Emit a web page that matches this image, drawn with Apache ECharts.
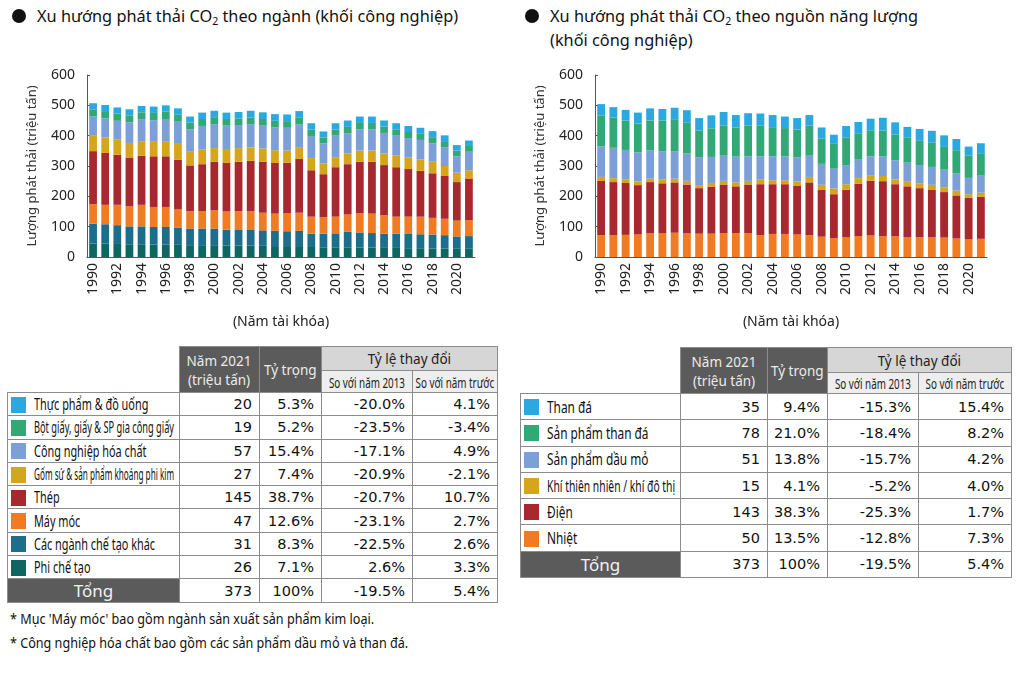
<!DOCTYPE html>
<html>
<head>
<meta charset="utf-8">
<script src="https://cdn.jsdelivr.net/npm/echarts/dist/echarts.min.js"></script>
<style>
  body { margin: 0; width: 1024px; height: 683px; background: #fff; position: relative; overflow: hidden;
         font-family: "Noto Sans", "Open Sans", sans-serif; color: #111; }
  .title { position: absolute; font-size: 17px; line-height: 24px; white-space: nowrap; }
  .title .in { display: inline-block; transform: scaleX(0.96); transform-origin: 0 50%; }
  .title .dot { position: absolute; left: -25px; top: 5px; width: 14px; height: 14px; border-radius: 50%; background: #111; }
  .title sub { font-size: 11px; vertical-align: -3px; line-height: 0; }
  .chart { position: absolute; top: 55px; width: 512px; height: 280px; }
  table { position: absolute; border-collapse: collapse; table-layout: fixed; }
  td, th { border: 1px solid #8c8c8c; padding: 0; font-weight: normal; overflow: hidden; }
  th { text-align: center; font-size: 15px; line-height: 19px; white-space: nowrap; }
  th .sq { display: inline-block; transform: scaleX(0.9); }
  th.dark { background: #5b5b5b; color: #ececec; }
  th.mid { background: #d6d6d6; color: #222; }
  th.sub { background: #eeeeee; color: #222; font-size: 14.5px; line-height: 16px; }
  th.sub .sq { transform: scaleX(0.68); margin: 0 -30px; }
  td.blank { border-top: none; border-left: none; background: transparent; }
  td.lab { position: relative; background: #fff; white-space: nowrap; }
  td.lab .sw { position: absolute; left: 3px; width: 15px; }
  td.lab .tx { position: absolute; left: 26px; display: inline-block; transform-origin: 0 50%; font-size: 16px; line-height: 21px; color: #111; }
  td.num { text-align: right; padding-right: 7px; font-family: "DejaVu Sans", sans-serif; font-size: 14.5px; color: #111; background: #fff; }
  td.tot { background: #5b5b5b; color: #f2f2f2; text-align: center; font-size: 17px; }
  .note { position: absolute; left: 10px; font-size: 14px; white-space: nowrap; transform-origin: 0 50%; transform: scaleX(0.9); }
</style>
</head>
<body>
<div class="title" style="left:37px;top:4px"><span class="dot"></span><span class="in">Xu hướng phát thải CO<sub>2</sub> theo ngành (khối công nghiệp)</span></div>
<div class="title" style="left:550px;top:4px"><span class="dot"></span><span class="in">Xu hướng phát thải CO<sub>2</sub> theo nguồn năng lượng<br>(khối công nghiệp)</span></div>
<div id="c1" class="chart" style="left:0"></div>
<div id="c2" class="chart" style="left:512px"></div>
<table id="t1" style="left:7px;top:346px"></table>
<table id="t2" style="left:520px;top:347px"></table>
<div class="note" style="top:609px">* Mục 'Máy móc' bao gồm ngành sản xuất sản phẩm kim loại.</div>
<div class="note" style="top:633px">* Công nghiệp hóa chất bao gồm các sản phẩm dầu mỏ và than đá.</div>
<script>
// ── data ──────────────────────────────────────────────────────────────
const years = ["1990","1991","1992","1993","1994","1995","1996","1997","1998","1999","2000","2001","2002","2003","2004","2005",
  "2006","2007","2008","2009","2010","2011","2012","2013","2014","2015","2016","2017","2018","2019","2020","2021"];

// theo ngành (thứ tự như bảng: trên xuống)
const sectorNames = ["Thực phẩm & đồ uống", "Bột giấy, giấy & SP gia công giấy", "Công nghiệp hóa chất",
  "Gốm sứ & sản phẩm khoáng phi kim", "Thép", "Máy móc", "Các ngành chế tạo khác", "Phi chế tạo"];
const thucPham = [20,20,20,20,21,21,21,21,20,21,21,21,21,22,22,22,22,22,21,20,21,21,21,21,20,20,20,20,20,19,18,18];
const giay     = [24,24,24,23,24,24,24,23,22,23,23,22,22,22,22,22,22,22,21,19,20,21,21,21,21,21,20,20,20,20,19,19];
const hoaChat  = [61,63,62,68,71,69,73,73,72,78,79,77,76,77,75,75,75,77,73,67,71,67,70,70,68,66,64,64,61,62,54,61];
const gomSu    = [53,51,50,48,48,50,50,52,47,48,45,46,45,44,44,42,40,37,40,35,33,35,37,37,38,38,38,38,38,33,31,27];
const thep     = [175,171,165,161,162,167,167,164,151,155,160,160,163,166,168,167,166,177,153,142,163,166,170,171,165,163,157,151,147,141,127,138];
const mayMoc   = [64,64,67,66,71,66,66,61,57,57,60,60,60,60,58,57,60,60,56,54,55,57,63,64,61,56,57,58,55,54,52,52];
const cheTaoKhac = [66,64,62,59,59,58,58,56,55,55,55,52,53,53,51,50,49,50,44,45,46,51,50,48,47,47,47,46,46,44,41,42];
const phiCheTao  = [44,44,43,42,42,41,41,40,39,39,39,38,38,38,37,36,36,36,33,32,32,32,31,31,30,30,29,29,28,28,27,27];

// theo nguồn năng lượng (thứ tự như bảng)
const energyNames = ["Than đá", "Sản phẩm than đá", "Sản phẩm dầu mỏ", "Khí thiên nhiên / khí đô thị", "Điện", "Nhiệt"];
const thanDa  = [37,34,35,36,40,38,40,40,41,43,44,41,40,39,40,38,38,35,37,30,39,39,40,42,40,36,39,38,38,37,30,35];
const spThan  = [102,100,97,95,98,101,103,103,88,94,100,96,102,102,96,93,91,99,83,82,90,83,84,85,85,82,80,81,75,77,73,72];
const dauMo   = [101,100,98,96,94,94,91,90,92,86,83,85,81,77,79,79,80,70,69,65,63,63,64,65,63,61,60,59,58,56,54,56];
const khi     = [12,13,11,12,11,12,12,12,10,12,12,13,12,15,13,13,15,18,17,19,18,18,17,17,16,17,16,17,16,16,12,13];
const dien    = [180,175,171,163,168,164,166,161,150,155,160,154,160,168,164,164,160,174,154,145,156,173,180,181,172,167,162,155,150,142,137,139];
const nhiet   = [72,72,73,74,79,79,80,78,77,77,79,79,79,72,76,76,74,72,67,62,66,69,71,69,68,66,65,66,64,61,58,60];

// bảng năm 2021
const sector2021   = [20, 19, 57, 27, 145, 47, 31, 26];
const sectorShare  = [5.3, 5.2, 15.4, 7.4, 38.7, 12.6, 8.3, 7.1];
const sectorVs2013 = [-20.0, -23.5, -17.1, -20.9, -20.7, -23.1, -22.5, 2.6];
const sectorVsPrev = [4.1, -3.4, 4.9, -2.1, 10.7, 2.7, 2.6, 3.3];
const energy2021   = [35, 78, 51, 15, 143, 50];
const energyShare  = [9.4, 21.0, 13.8, 4.1, 38.3, 13.5];
const energyVs2013 = [-15.3, -18.4, -15.7, -5.2, -25.3, -12.8];
const energyVsPrev = [15.4, 8.2, 4.2, 4.0, 1.7, 7.3];
const totalRow = ["373", "100%", "-19.5%", "5.4%"];

// ── styles ────────────────────────────────────────────────────────────
const C_SKY = "#2ba8e0", C_GREEN = "#33a877", C_LAV = "#7c9fd8", C_GOLD = "#d5a51c",
      C_RED = "#a7292f", C_ORANGE = "#f07b22", C_TEAL = "#1d6e8a", C_DTEAL = "#0e6662";
const sectorColors = [C_SKY, C_GREEN, C_LAV, C_GOLD, C_RED, C_ORANGE, C_TEAL, C_DTEAL];
const energyColors = [C_SKY, C_GREEN, C_LAV, C_GOLD, C_RED, C_ORANGE];
const FONT = "Noto Sans";

function makeChart(dom, names, datas, colors, gridLeft, gridRight) {
  const chart = echarts.init(dom);
  const series = names.map((n, i) => ({
    name: n, type: "bar", stack: "t", barWidth: "64%",
    data: datas[i], itemStyle: { color: colors[i] },
    emphasis: { disabled: true },
  })).reverse();
  chart.setOption({
    backgroundColor: "transparent", animation: false,
    textStyle: { fontFamily: FONT },
    grid: { left: gridLeft, right: gridRight, top: 20, bottom: 78 },
    xAxis: {
      type: "category", data: years,
      axisLine: { lineStyle: { color: "#555", width: 1 } }, axisTick: { show: false },
      axisLabel: { rotate: 90, interval: 1, color: "#222", fontSize: 14, margin: 6, fontFamily: FONT },
      name: "(Năm tài khóa)", nameLocation: "middle", nameGap: 58,
      nameTextStyle: { color: "#222", fontSize: 14, fontFamily: FONT },
    },
    yAxis: {
      type: "value", min: 0, max: 600, interval: 100,
      axisLine: { show: true, lineStyle: { color: "#555", width: 1 } },
      axisTick: { show: true, inside: true, length: 3, lineStyle: { color: "#555" } },
      axisLabel: { color: "#222", fontSize: 14, margin: 12, fontFamily: FONT },
      splitLine: { show: false },
      name: "Lượng phát thải (triệu tấn)", nameLocation: "middle", nameGap: 48,
      nameTextStyle: { color: "#333", fontSize: 13, fontFamily: FONT },
    },
    series,
  });
}

makeChart(document.getElementById("c1"), sectorNames,
  [thucPham, giay, hoaChat, gomSu, thep, mayMoc, cheTaoKhac, phiCheTao], sectorColors, 87, 37);
makeChart(document.getElementById("c2"), energyNames,
  [thanDa, spThan, dauMo, khi, dien, nhiet], energyColors, 83, 37);

// ── tables ────────────────────────────────────────────────────────────
function pct(v) { return v.toFixed(1) + "%"; }

function buildTable(id, cols, headH, rowH, scale, names, colors, v, share, vs13, vsPrev) {
  const t = document.getElementById(id);
  t.style.width = cols.reduce((a, b) => a + b, 0) + "px";
  let h = "<colgroup>" + cols.map(w => `<col style="width:${w}px">`).join("") + "</colgroup>";
  h += `<tr style="height:${headH[0]}px"><td class="blank" rowspan="2"></td>
    <th class="dark" rowspan="2"><span class="sq">Năm 2021<br>(triệu tấn)</span></th>
    <th class="dark" rowspan="2"><span class="sq">Tỷ trọng</span></th>
    <th class="mid" colspan="2"><span class="sq">Tỷ lệ thay đổi</span></th></tr>
    <tr style="height:${headH[1]}px"><th class="sub"><span class="sq">So với năm 2013</span></th>
    <th class="sub"><span class="sq">So với năm trước</span></th></tr>`;
  names.forEach((n, i) => {
    h += `<tr style="height:${rowH}px"><td class="lab"><span class="sw" style="background:${colors[i]};top:${(rowH - 16) / 2}px;height:16px"></span>
      <span class="tx" style="top:${(rowH - 21) / 2}px">${n}</span></td>
      <td class="num">${v[i]}</td><td class="num">${pct(share[i])}</td>
      <td class="num">${pct(vs13[i])}</td><td class="num">${pct(vsPrev[i])}</td></tr>`;
  });
  h += `<tr style="height:${rowH}px"><td class="tot">Tổng</td>` + totalRow.map(s => `<td class="num">${s}</td>`).join("") + "</tr>";
  t.innerHTML = h;
  // nén chữ nhãn cho vừa ô
  const avail = cols[0] - 32;
  t.querySelectorAll(".tx").forEach(el => {
    const w = el.offsetWidth;
    el.style.transform = `scaleX(${Math.min(scale, avail / w)})`;
  });
}

buildTable("t1", [172, 80, 62, 91, 85], [24, 22], 23.3, 0.68, sectorNames, sectorColors,
  sector2021, sectorShare, sectorVs2013, sectorVsPrev);
buildTable("t2", [160, 87, 60, 91, 93], [25, 21], 26.3, 0.74, energyNames, energyColors,
  energy2021, energyShare, energyVs2013, energyVsPrev);
</script>
</body>
</html>
